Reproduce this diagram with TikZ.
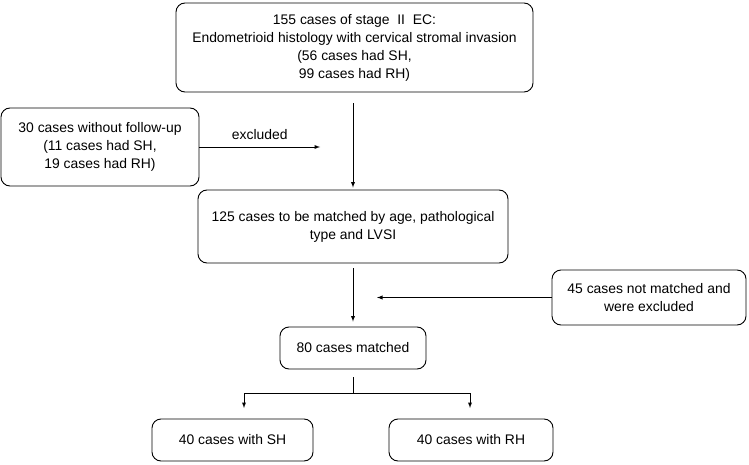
\documentclass[tikz,border=0pt]{standalone}
\usepackage{fontspec}
\setmainfont{Liberation Sans}
\tikzset{
    box/.style={draw, rounded corners=9pt, line width=0.9pt, align=center,
                inner sep=2pt, font=\fontsize{13.9}{18}\selectfont},
    arr/.style={-latex, line width=0.9pt}
}
\begin{document}
\begin{tikzpicture}[x=1pt, y=-1pt]
            \useasboundingbox (0,0) rectangle (749,465);

            \node (all) at (354.5, 47.5) [box, minimum width=357pt, minimum height=89pt]
                {155 cases of stage~~II~~EC:\\Endometrioid histology with cervical stromal invasion\\(56 cases had SH,\\ 99 cases had RH)};
            \node (lost) at (100, 147) [box, minimum width=198pt, minimum height=78pt]
                {30 cases without follow-up\\(11 cases had SH,\\ 19 cases had RH)};
            \node (tomatch) at (353, 226.5) [box, minimum width=310pt, minimum height=73pt]
                {125 cases to be matched by age, pathological\\type and LVSI};
            \node (nomatch) at (649, 297.5) [box, minimum width=194pt, minimum height=55pt]
                {45 cases not matched and\\were excluded};
            \node (matched) at (353, 348) [box, minimum width=146pt, minimum height=42pt]
                {80 cases matched};
            \node (sh) at (232.5, 440) [box, minimum width=161pt, minimum height=42pt]
                {40 cases with SH};
            \node (rh) at (471, 440) [box, minimum width=164pt, minimum height=42pt]
                {40 cases with RH};

            \coordinate (exin) at (320, 147);
            \coordinate (exout) at (377, 297.5);
            \coordinate (split) at (353, 393);
            \coordinate (tosh) at (244, 408);
            \coordinate (torh) at (470, 408);

            \draw[arr, shorten <=11pt, shorten >=2pt] (all.south -| tomatch.north) -- (tomatch.north);
            \draw[arr] (lost.east) -- (exin) node[midway, above=4pt, font=\fontsize{13.9}{16}\selectfont] {excluded};
            \draw[arr, shorten <=5pt, shorten >=5pt] (tomatch.south) -- (matched.north);
            \draw[arr] (nomatch.west) -- (exout);
            \draw[line width=0.9pt, shorten <=8pt] (matched.south) -- (split);
            \draw[arr] (split) -| (tosh);
            \draw[arr] (split) -| (torh);
        \end{tikzpicture}
\end{document}
